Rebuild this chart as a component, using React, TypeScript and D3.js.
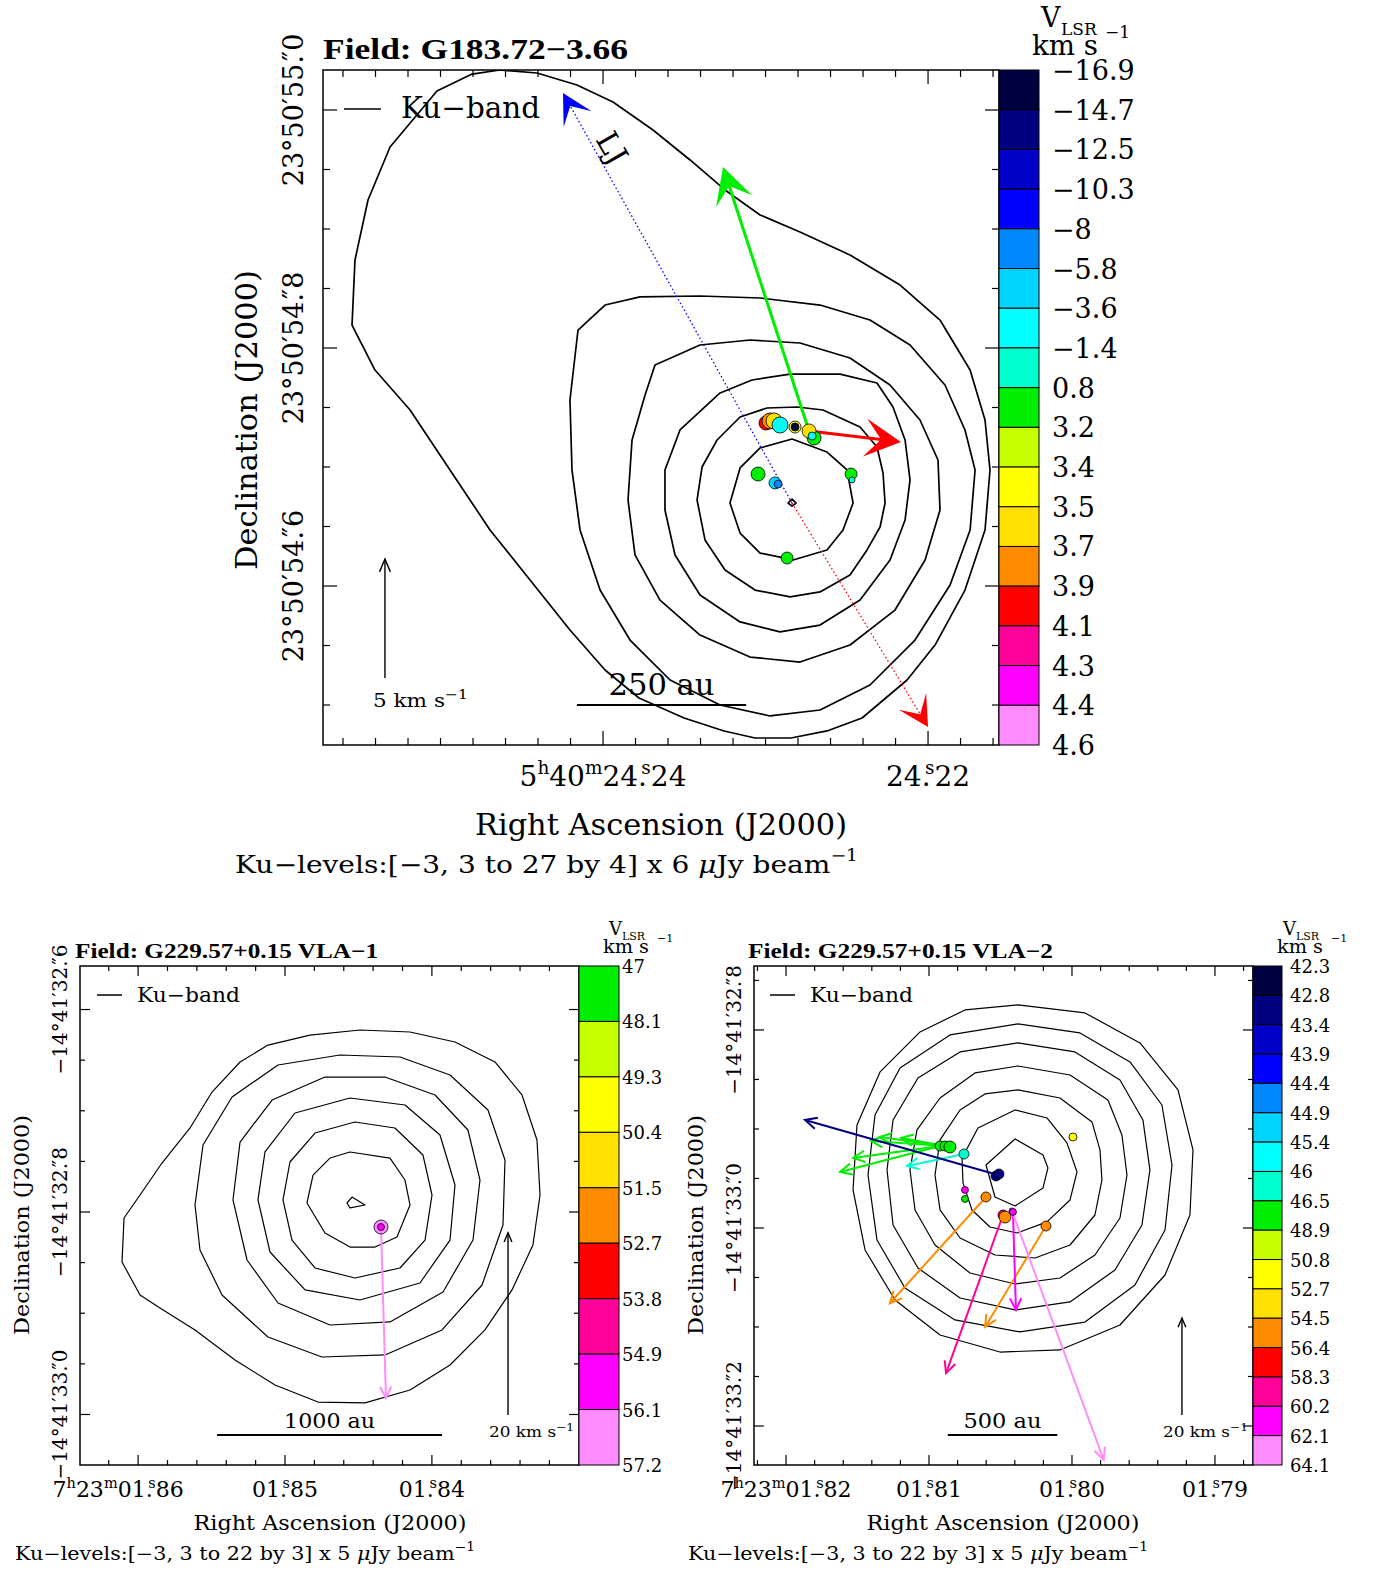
import React from "react";
import * as d3 from "d3";

type Pt = [number, number];
const FONT = "'DejaVu Serif', 'Liberation Serif', serif";
const BOLD_FONT = "'Liberation Serif', 'DejaVu Serif', serif";

// ---------- colour table (17 velocity bins) ----------
const PALETTE = ["#000040", "#000080", "#0000c8", "#0000ff", "#0088ff", "#00d4ff", "#00ffff", "#00ffcc", "#00ee00", "#c8ff00", "#ffff00", "#ffe000", "#ff8c00", "#ff0000", "#ff0099", "#ff00ff", "#ff8cff"];

// ================= G183.72-3.66 =================
const g183Edges = [-16.9, -14.7, -12.5, -10.3, -8, -5.8, -3.6, -1.4, 0.8, 3.2, 3.4, 3.5, 3.7, 3.9, 4.1, 4.3, 4.4, 4.6];
// contours: offsets in mas [east, north] from RA 5h40m24.23s, Dec 23d50m54.7s
const g183Contours: Pt[][] = [
  [[224.2,333.6],[192.9,331.1],[159.2,321.0],[128.8,306.7],[95.0,283.2],[63.7,258.0],[34.2,232.8],[4.6,211.8],[-29.1,197.5],[-71.3,178.1],[-113.6,152.9],[-147.3,123.5],[-172.7,81.5],[-185.3,39.5],[-189.5,-2.5],[-185.3,-52.9],[-168.4,-103.4],[-143.1,-149.6],[-119.5,-179.0],[-81.5,-210.9],[-51.9,-221.8],[-21.5,-227.7],[8.9,-227.7],[35.0,-221.8],[68.8,-210.9],[106.8,-194.1],[135.5,-170.6],[165.1,-137.0],[198.8,-95.0],[232.6,-52.9],[266.4,-2.5],[300.1,47.9],[329.7,81.5],[349.1,119.3],[346.6,173.9],[335.6,224.4],[317.0,268.9],[277.4,316.0],[247.8,330.2]],
  [[158.3,115.1],[135.5,136.1],[106.0,142.9],[55.3,143.7],[4.6,142.0],[-46.0,136.1],[-88.2,123.5],[-122.0,102.5],[-151.5,68.9],[-168.4,31.1],[-176.9,-2.5],[-172.7,-52.9],[-155.8,-99.2],[-126.2,-145.4],[-88.2,-183.2],[-46.0,-204.2],[-3.8,-209.2],[38.4,-200.0],[80.6,-179.0],[114.4,-145.4],[139.7,-103.4],[156.6,-52.9],[163.4,-2.5],[165.1,56.3]],
  [[101.7,60.5],[93.3,85.7],[55.3,102.5],[13.1,106.7],[-29.1,104.2],[-71.3,91.6],[-105.1,68.9],[-130.4,39.5],[-145.6,5.9],[-147.3,-36.1],[-134.7,-78.1],[-109.3,-120.2],[-71.3,-149.6],[-29.1,-163.9],[13.1,-159.7],[55.3,-141.2],[89.1,-111.8],[110.2,-73.9],[116.1,-27.7],[112.7,22.7]],
  [[84.9,-2.5],[72.2,31.1],[38.4,62.2],[11.4,73.1],[-20.7,78.1],[-62.9,78.1],[-94.1,70.6],[-107.6,50.4],[-117.8,22.7],[-122.0,-10.9],[-117.8,-44.5],[-105.1,-78.1],[-79.8,-111.8],[-46.0,-132.8],[-12.2,-138.6],[21.5,-130.2],[55.3,-107.6],[76.4,-73.9],[84.9,-36.1]],
  [[57.8,-27.7],[53.6,0],[40.9,22.7],[21.5,42.0],[-1.3,49.6],[-26.6,50.4],[-48.5,47.9],[-79.8,33.6],[-94.1,16.8],[-99.2,-5.0],[-100.9,-30.3],[-96.7,-50.4],[-85.7,-69.7],[-71.3,-90.8],[-46.0,-105.0],[-20.7,-109.2],[8.9,-103.4],[34.2,-86.6],[51.1,-61.3]],
  [[30.0,-30.3],[21.5,-0.8],[4.6,16.0],[-22.4,23.5],[-51.9,12.6],[-68.8,-2.5],[-73.9,-30.3],[-65.4,-52.9],[-51.9,-69.7],[-23.2,-78.1],[4.6,-72.3],[21.5,-55.5]],
  [[-19.0,-30.3],[-22.4,-26.9],[-25.8,-30.3],[-22.4,-32.8]],
];
// maser spots: [east mas, north mas, V_LSR km/s, flux Jy]
const g183Spots: number[][] = [
  [-0.4, 37.0, 4.0, 49], [-3.8, 38.7, 3.8, 64], [-7.2, 38.7, 3.6, 64], [-12.2, 35.3, -2.5, 64],
  [-24.9, 33.6, 3.45, 36], [-24.9, 33.6, -15.5, 16], [-41.0, 24.4, 2.0, 49], [-36.7, 30.3, 3.6, 49],
  [-39.3, 26.0, -2.5, 16], [6.3, -5.9, 2.0, 49], [-8.0, -13.4, -4.5, 36], [-10.6, -14.3, -7.0, 16],
  [-72.2, -5.9, 2.0, 36], [-73.0, -10.9, -0.5, 9], [-18.2, -76.5, 2.0, 36],
];
// proper motions: [east mas, north mas, vEast km/s, vNorth km/s, V_LSR]
const g183Motions: number[][] = [
  [-36.7, 30.3, 3.63, 11.09, 2.0],
  [-36.7, 30.3, -3.88, -0.46, 4.0],
];
const g183JetCenter: Pt = [-22.4, -30.3];
const g183JetBlue: Pt = [171.0, 314.3];
const g183JetRed: Pt = [-137.2, -218.5];
// tick labels: [value, h/deg, m/min, sec int, sec frac]
const g183RaLabels: any[] = [[24.24, "5", "40", "24", "24"], [24.22, null, null, "24", "22"]];
const g183DecLabels: any[] = [[55.0, "23", "50", "55", "0"], [54.8, "23", "50", "54", "8"], [54.6, "23", "50", "54", "6"]];

// ================= G229.57+0.15 VLA-1 =================
const vla1Edges = [47, 48.1, 49.3, 50.4, 51.5, 52.7, 53.8, 54.9, 56.1, 57.2];
// offsets in mas from RA 7h23m01.85s, Dec -14d41m32.8s
const vla1Contours: Pt[][] = [
  [[161.0,-49.4],[159.0,-5.9],[143.2,16.8],[121.5,48.4],[93.8,83.0],[72.1,118.5],[44.4,148.2],[16.8,164.9],[-24.7,174.8],[-74.1,179.8],[-123.5,177.8],[-167.9,167.9],[-207.4,148.2],[-234.1,115.6],[-248.9,71.1],[-251.9,16.8],[-244.9,-32.6],[-224.2,-77.0],[-197.5,-116.5],[-163.0,-151.1],[-123.5,-175.8],[-79.0,-188.6],[-32.6,-187.7],[9.9,-170.9],[49.4,-146.2],[88.9,-116.5],[123.5,-94.8],[143.2,-82.0]],
  [[88.9,6.9],[81.0,66.2],[52.3,113.6],[6.9,145.2],[-54.3,155.1],[-113.6,153.1],[-163.0,135.3],[-200.5,100.7],[-217.3,51.4],[-215.3,-12.8],[-194.6,-72.1],[-155.1,-116.5],[-98.8,-141.2],[-36.5,-143.2],[16.8,-123.5],[62.2,-82.0],[84.0,-37.5]],
  [[51.4,11.9],[44.4,69.1],[12.8,110.6],[-39.5,133.3],[-98.8,133.3],[-148.2,115.6],[-180.7,81.0],[-192.6,31.6],[-185.7,-27.7],[-156.1,-79.0],[-103.7,-108.6],[-44.4,-111.6],[6.9,-89.9],[37.5,-47.4]],
  [[26.7,11.9],[19.8,59.3],[-9.9,97.8],[-64.2,112.6],[-118.5,105.7],[-153.1,76.1],[-167.9,26.7],[-163.0,-27.7],[-133.3,-70.1],[-74.1,-86.9],[-19.8,-77.0],[14.8,-39.5]],
  [[2.0,11.9],[-4.9,49.4],[-29.6,78.0],[-69.1,88.9],[-108.6,83.0],[-136.3,56.3],[-145.2,16.8],[-138.3,-27.7],[-113.6,-55.3],[-69.1,-65.2],[-29.6,-55.3],[-6.9,-27.7]],
  [[-21.7,8.9],[-27.7,36.5],[-44.4,53.3],[-64.2,59.3],[-103.7,53.3],[-118.5,31.6],[-123.5,6.9],[-110.6,-24.7],[-88.9,-34.6],[-64.2,-34.6],[-39.5,-20.7]],
  [[-61.2,8.9],[-66.2,14.8],[-79.0,6.9],[-64.2,4.0]],
];
const vla1Spots: number[][] = [[-94.8, -14.8, 56.6, 49], [-94.8, -14.8, 55.5, 12]];
const vla1Motions: number[][] = [[-94.8, -14.8, -0.55, -18.8, 56.6]];
const vla1RaLabels: any[] = [[1.86, "7", "23", "01", "86"], [1.85, null, null, "01", "85"], [1.84, null, null, "01", "84"]];
const vla1DecLabels: any[] = [[32.6, "−14", "41", "32", "6"], [32.8, "−14", "41", "32", "8"], [33.0, "−14", "41", "33", "0"]];

// ================= G229.57+0.15 VLA-2 =================
const vla2Edges = [42.3, 42.8, 43.4, 43.9, 44.4, 44.9, 45.4, 46, 46.5, 48.9, 50.8, 52.7, 54.5, 56.4, 58.3, 60.2, 62.1, 64.1];
// offsets in mas from RA 7h23m01.80s, Dec -14d41m33.0s
const vla2Contours: Pt[][] = [
  [[54.8,225.3],[-13.2,217.2],[-69.0,186.9],[-107.6,139.4],[-122.8,78.8],[-119.7,13.1],[-94.4,-47.5],[-48.7,-98.0],[12.2,-123.2],[73.1,-125.3],[133.9,-108.1],[179.6,-72.7],[210.0,-22.2],[222.2,38.4],[218.2,104.0],[194.8,157.6],[154.2,198.0],[108.6,220.2]],
  [[54.8,206.1],[-8.1,197.0],[-58.9,167.7],[-91.3,124.2],[-101.5,63.6],[-94.4,-2.0],[-63.9,-57.6],[-13.2,-95.0],[52.8,-105.0],[118.7,-92.9],[169.5,-60.6],[197.9,-12.1],[207.0,53.5],[199.9,114.1],[174.5,161.6],[123.8,195.0]],
  [[54.8,186.9],[-3.0,177.8],[-48.7,149.5],[-72.0,109.1],[-79.1,58.6],[-71.0,3.0],[-43.6,-42.4],[2.0,-74.7],[57.8,-82.8],[113.6,-70.7],[156.3,-40.4],[181.6,3.0],[187.7,58.6],[181.6,109.1],[156.3,151.5],[113.6,177.8]],
  [[54.8,163.6],[2.0,154.5],[-36.5,129.3],[-50.7,93.9],[-55.8,53.5],[-48.7,10.1],[-23.3,-27.3],[12.2,-50.5],[57.8,-56.6],[103.5,-45.5],[139.0,-17.2],[159.3,18.2],[164.4,58.6],[157.3,99.0],[133.9,131.3],[98.4,156.6]],
  [[54.8,139.4],[12.2,131.3],[-20.3,107.1],[-28.4,78.8],[-30.4,48.5],[-23.3,13.1],[2.0,-17.2],[37.5,-30.3],[78.1,-27.3],[113.6,-10.1],[133.9,18.2],[139.0,53.5],[133.9,88.9],[113.6,119.2],[88.3,135.4]],
  [[57.8,119.2],[25.4,111.1],[5.1,85.9],[-5.1,56.6],[2.0,28.3],[25.4,6.1],[55.8,-5.1],[83.2,1.0],[101.5,18.2],[110.6,45.5],[111.6,70.7],[95.4,101.0]],
  [[57.8,89.9],[29.4,73.7],[24.4,60.6],[29.4,40.4],[57.8,22.2],[78.1,31.3],[87.3,63.6]],
];
const vla2Spots: number[][] = [
  [133.9, 82.8, 47.7, 25], [128.9, 82.8, 47.7, 25], [123.8, 81.8, 47.7, 36], [109.6, 74.7, 46.2, 25],
  [77.1, 52.5, 43.1, 25], [74.1, 54.5, 43.1, 25], [-1.0, 91.9, 51.7, 16], [108.6, 38.4, 61.1, 12],
  [108.6, 29.3, 47.7, 12], [87.3, 31.3, 55.5, 25], [70.0, 13.1, 59.2, 25], [68.0, 11.1, 55.5, 36],
  [60.9, 17.2, 63.1, 9], [59.9, 16.2, 61.1, 12], [26.4, 2.0, 55.5, 25],
];
const vla2Motions: number[][] = [
  [133.9, 82.8, 20.7, -5.36, 47.7], [133.9, 82.8, 18.0, -2.47, 47.7], [128.9, 82.8, 15.3, 1.03, 47.7],
  [128.9, 82.8, 13.5, 1.86, 47.7], [123.8, 81.8, 10.1, 1.86, 47.7], [109.6, 74.7, 11.8, -2.47, 46.2],
  [75.1, 53.5, 39.96, 11.34, 43.1], [87.3, 31.3, 19.9, -21.9, 55.5], [26.4, 2.0, 12.6, -20.8, 55.5],
  [70.0, 13.1, 11.8, -32.6, 59.2], [59.9, 16.2, -0.62, -20.2, 61.1], [60.9, 17.2, -19.0, -51.3, 63.1],
];
const vla2RaLabels: any[] = [[1.82, "7", "23", "01", "82"], [1.81, null, null, "01", "81"], [1.80, null, null, "01", "80"], [1.79, null, null, "01", "79"]];
const vla2DecLabels: any[] = [[32.8, "−14", "41", "32", "8"], [33.0, "−14", "41", "33", "0"], [33.2, "−14", "41", "33", "2"]];

// ---------- helpers ----------
type Seg = { t: string; raise?: number; size?: number; dx?: number; italic?: boolean };
function tspans(segs: Seg[] | string) {
  if (typeof segs === "string") return segs;
  let cur = 0;
  return segs.map((s, i) => {
    const r = s.raise || 0;
    const dy = cur - r;
    cur = r;
    return (
      <tspan key={i} dy={dy || undefined} dx={s.dx} fontSize={s.size} fontStyle={s.italic ? "italic" : undefined}>
        {s.t}
      </tspan>
    );
  });
}
function Label(p: any) {
  const tr = p.rotate ? `translate(${p.x},${p.y}) rotate(${p.rotate})` : undefined;
  return (
    <text
      x={p.rotate ? 0 : p.x}
      y={p.rotate ? 0 : p.y}
      transform={tr}
      fontSize={p.size}
      fontFamily={p.bold ? BOLD_FONT : undefined}
      fontWeight={p.bold ? "bold" : undefined}
      textAnchor={p.anchor || "start"}
      textLength={p.len}
      lengthAdjust={p.len ? "spacingAndGlyphs" : undefined}
      fill="#000"
    >
      {tspans(p.segs)}
    </text>
  );
}
const fmtVel = (v: number) => String(v).replace("-", "−");
const isMaj = (v: number, step: number) => Math.abs(v / step - Math.round(v / step)) < 1e-4;

function headFilled(from: Pt, tip: Pt, L: number, W: number, notch: number) {
  const dx = tip[0] - from[0], dy = tip[1] - from[1];
  const len = Math.hypot(dx, dy) || 1;
  const ux = dx / len, uy = dy / len, px = -uy, py = ux;
  const bx = tip[0] - ux * L, by = tip[1] - uy * L;
  const nx = tip[0] - ux * notch, ny = tip[1] - uy * notch;
  return { pts: `${tip[0]},${tip[1]} ${bx + px * W},${by + py * W} ${nx},${ny} ${bx - px * W},${by - py * W}`, notch: [nx, ny] as Pt };
}
function headOpen(from: Pt, tip: Pt, L: number, ang: number) {
  const a = Math.atan2(tip[1] - from[1], tip[0] - from[0]);
  const a1 = a + Math.PI - ang, a2 = a + Math.PI + ang;
  return `M${tip[0] + L * Math.cos(a1)},${tip[1] + L * Math.sin(a1)}L${tip[0]},${tip[1]}L${tip[0] + L * Math.cos(a2)},${tip[1] + L * Math.sin(a2)}`;
}

function Panel({ c }: { c: any }) {
  const { x0, y0, x1, y1 } = c.frame;
  const xs = d3.scaleLinear().domain(c.eDomain).range([x0, x1]);
  const ys = d3.scaleLinear().domain(c.nDomain).range([y0, y1]);
  const P = (e: number, n: number): Pt => [xs(e), ys(n)];
  const masPerSec = 15000 * c.cosDec;
  const raToE = (ra: number) => (ra - c.raRef) * masPerSec;
  const decToN = (d: number) => c.decSign * (d - c.decRef) * 1000;
  const color = d3.scaleThreshold<number, string>().domain(c.edges.slice(1, -1)).range(c.palette);
  const rScale = d3.scaleSqrt().domain([0, 100]).range([0, 10]);
  const line = d3.line<Pt>().x((d) => xs(d[0])).y((d) => ys(d[1])).curve(d3.curveLinearClosed);
  const clipId = "clip-" + c.id;

  const eMin = Math.min(...c.eDomain), eMax = Math.max(...c.eDomain);
  const nMin = Math.min(...c.nDomain), nMax = Math.max(...c.nDomain);
  const raTicks: any[] = [];
  for (let k = -300; k <= 300; k++) {
    const ra = c.raRef + k * c.raMinor;
    const e = raToE(ra);
    if (e > eMin + 0.5 && e < eMax - 0.5) raTicks.push({ x: xs(e), major: isMaj(ra, c.raMajor) });
  }
  const decTicks: any[] = [];
  for (let k = -300; k <= 300; k++) {
    const d = c.decRef + k * c.decMinor;
    const n = decToN(d);
    if (n > nMin + 0.5 && n < nMax - 0.5) decTicks.push({ y: ys(n), major: isMaj(d, c.decMajor) });
  }

  const fsR = c.raFont, fsD = c.decFont;
  const raSegs = (l: any): Seg[] => {
    const up = 0.42 * fsR, ss = 0.66 * fsR;
    const out: Seg[] = [];
    if (l[1]) out.push({ t: l[1] }, { t: "h", raise: up, size: ss }, { t: l[2] }, { t: "m", raise: up, size: ss });
    out.push({ t: l[3] + "." }, { t: "s", raise: up, size: ss, dx: -0.2 * fsR }, { t: l[4] });
    return out;
  };
  const decSegs = (l: any): Seg[] => [{ t: `${l[1]}°${l[2]}′${l[3]}.` }, { t: "″", dx: -0.22 * fsD }, { t: l[4] }];

  const nb = c.edges.length - 1;
  const yb = d3.scaleLinear().domain([0, nb]).range([y0, y1]);
  const vecEnd = (e: number, n: number, ve: number, vn: number) => P(e + ve * c.masPerKms, n + vn * c.masPerKms);
  const jet = c.jet;
  const au2mas = (au: number) => au / c.distKpc;

  return (
    <g>
      <defs>
        <clipPath id={clipId}>
          <rect x={x0} y={y0} width={x1 - x0} height={y1 - y0} />
        </clipPath>
      </defs>
      <g clipPath={`url(#${clipId})`}>
        {c.contours.map((cc: Pt[], i: number) => (
          <path key={i} d={line(cc) || ""} fill="none" stroke="#000" strokeWidth={c.contourWidth} strokeLinejoin="round" />
        ))}
      </g>
      <rect x={x0} y={y0} width={x1 - x0} height={y1 - y0} fill="none" stroke="#000" strokeWidth={1.5} />
      {raTicks.map((t, i) => {
        const L = t.major ? c.tickMajor : c.tickMinor;
        return (
          <g key={"rt" + i} stroke="#000" strokeWidth={1.2}>
            <line x1={t.x} x2={t.x} y1={y1} y2={y1 - L} />
            <line x1={t.x} x2={t.x} y1={y0} y2={y0 + L} />
          </g>
        );
      })}
      {decTicks.map((t, i) => {
        const L = t.major ? c.tickMajor : c.tickMinor;
        return (
          <g key={"dt" + i} stroke="#000" strokeWidth={1.2}>
            <line x1={x0} x2={x0 + L} y1={t.y} y2={t.y} />
            <line x1={x1} x2={x1 - L} y1={t.y} y2={t.y} />
          </g>
        );
      })}
      {c.raLabels.map((l: any, i: number) => (
        <Label key={"rl" + i} x={xs(raToE(l[0])) + (l[1] ? c.raFirstShift : 0)} y={c.raY} size={fsR} anchor="middle" segs={raSegs(l)} />
      ))}
      {c.decLabels.map((l: any, i: number) => (
        <Label key={"dl" + i} x={c.decX} y={ys(decToN(l[0]))} rotate={-90} size={fsD} anchor="middle" segs={decSegs(l)} />
      ))}
      {jet && (() => {
        const cen = P(jet.center[0], jet.center[1]);
        const b = P(jet.blue[0], jet.blue[1]);
        const r = P(jet.red[0], jet.red[1]);
        const hb = headFilled(cen, b, 30, 16, 15);
        const hr = headFilled(cen, r, 30, 16, 15);
        return (
          <g>
            <line x1={cen[0]} y1={cen[1]} x2={hb.notch[0]} y2={hb.notch[1]} stroke="#0000ff" strokeWidth={1.3} strokeDasharray="1.5 2.5" />
            <polygon points={hb.pts} fill="#0000ff" />
            <line x1={cen[0]} y1={cen[1]} x2={hr.notch[0]} y2={hr.notch[1]} stroke="#ff0000" strokeWidth={1.3} strokeDasharray="1.5 2.5" />
            <polygon points={hr.pts} fill="#ff0000" />
            <text transform={`translate(${xs(jet.label[0])},${ys(jet.label[1])}) rotate(60)`} fontSize={30} textAnchor="middle" dominantBaseline="central">LJ</text>
          </g>
        );
      })()}
      {c.motions.map((m: number[], i: number) => {
        const s = P(m[0], m[1]);
        const t = vecEnd(m[0], m[1], m[2], m[3]);
        const col = color(m[4]);
        if (c.head === "filled") {
          const h = headFilled(s, t, 36, 19, 20);
          return (
            <g key={"m" + i}>
              <line x1={s[0]} y1={s[1]} x2={h.notch[0]} y2={h.notch[1]} stroke={col} strokeWidth={c.motionWidth} />
              <polygon points={h.pts} fill={col} />
            </g>
          );
        }
        return (
          <g key={"m" + i} stroke={col} strokeWidth={c.motionWidth} fill="none">
            <line x1={s[0]} y1={s[1]} x2={t[0]} y2={t[1]} />
            <path d={headOpen(s, t, 13, 0.45)} />
          </g>
        );
      })}
      {c.spots.map((s: number[], i: number) => {
        const [x, y] = P(s[0], s[1]);
        return <circle key={"s" + i} cx={x} cy={y} r={rScale(s[3])} fill={color(s[2])} stroke="#000" strokeWidth={0.8} />;
      })}
      {(() => {
        const a = c.refArrow;
        const s = P(a.e, a.n);
        const t = vecEnd(a.e, a.n, 0, a.kms);
        return (
          <g>
            <g stroke="#000" strokeWidth={1.4} fill="none">
              <line x1={s[0]} y1={s[1]} x2={t[0]} y2={t[1]} />
              <path d={headOpen(s, t, a.head, 0.4)} />
            </g>
            <Label x={s[0] + a.lx} y={s[1] + a.ly} size={a.size} segs={[{ t: `${a.kms} km s` }, { t: "−1", raise: a.size * 0.45, size: a.size * 0.72 }]} len={a.len} />
          </g>
        );
      })()}
      {(() => {
        const sb = c.scaleBar;
        const half = au2mas(sb.au) / 2;
        const a = P(sb.e + half, sb.n), b = P(sb.e - half, sb.n);
        return (
          <g>
            <line x1={a[0]} x2={b[0]} y1={a[1]} y2={b[1]} stroke="#000" strokeWidth={2} />
            <Label x={(a[0] + b[0]) / 2} y={a[1] + sb.ty} size={sb.size} anchor="middle" segs={`${sb.au} au`} len={sb.len} />
          </g>
        );
      })()}
      {d3.range(nb).map((i) => (
        <rect key={"cb" + i} x={c.cbar.x0} y={yb(i)} width={c.cbar.x1 - c.cbar.x0} height={yb(i + 1) - yb(i)} fill={c.palette[i]} stroke="#000" strokeWidth={1} />
      ))}
      {c.edges.map((v: number, i: number) => (
        <Label key={"cl" + i} x={c.cbar.labelX} y={yb(i) + c.cbar.dy} size={c.cbar.font} segs={fmtVel(v)} />
      ))}
      <line x1={c.legend.x1} x2={c.legend.x2} y1={c.legend.y} y2={c.legend.y} stroke="#000" strokeWidth={1.5} />
      {c.texts.map((t: any, i: number) => (
        <Label key={"t" + i} {...t} />
      ))}
    </g>
  );
}

const g183Cfg = {
  id: "g183",
  frame: { x0: 323, y0: 70, x1: 999, y1: 745 },
  eDomain: [373.6, -197.1], nDomain: [333.6, -233.6],
  raRef: 24.23, decRef: 54.7, cosDec: 0.91464, decSign: 1,
  raMinor: 0.002, raMajor: 0.02, decMinor: 0.05, decMajor: 0.2,
  tickMajor: 14, tickMinor: 7,
  contours: g183Contours, contourWidth: 1.7,
  spots: g183Spots, motions: g183Motions, masPerKms: 20, motionWidth: 3, head: "filled",
  edges: g183Edges, palette: PALETTE,
  cbar: { x0: 999, x1: 1039, labelX: 1052, font: 27, dy: 10 },
  raLabels: g183RaLabels, raFont: 28, raY: 786, raFirstShift: 0,
  decLabels: g183DecLabels, decFont: 27, decX: 303,
  jet: { center: g183JetCenter, blue: g183JetBlue, red: g183JetRed, label: [129.6, 268.1] },
  refArrow: { e: 321.3, n: -177.3, kms: 5, head: 14, lx: -12, ly: 29, size: 18, len: 95 },
  distKpc: 1.75,
  scaleBar: { e: 87.8, n: -200, au: 250, ty: -10, size: 29, len: 106 },
  legend: { x1: 344, x2: 381, y: 109 },
  texts: [
    { x: 323, y: 59, size: 29, bold: true, segs: "Field: G183.72−3.66", len: 305 },
    { x: 401, y: 118, size: 29, segs: "Ku−band", len: 139 },
    { x: 661, y: 835, size: 29, anchor: "middle", segs: "Right Ascension (J2000)", len: 372 },
    { x: 257, y: 420, rotate: -90, size: 29, anchor: "middle", segs: "Declination (J2000)", len: 300 },
    { x: 235, y: 873, size: 24, len: 623, segs: [{ t: "Ku−levels:[−3, 3 to 27 by 4] x 6 " }, { t: "μ", italic: true }, { t: "Jy beam" }, { t: "−1", raise: 12, size: 16 }] },
    { x: 1041, y: 27, size: 27, segs: "V" },
    { x: 1061, y: 35, size: 17, segs: "LSR" },
    { x: 1032, y: 55, size: 27, segs: "km s", len: 66 },
    { x: 1105, y: 38, size: 17, segs: "−1" },
  ],
};

const vla1Cfg = {
  id: "vla1",
  frame: { x0: 80, y0: 966, x1: 579, y1: 1465 },
  eDomain: [202.5, -290.4], nDomain: [243.0, -249.9],
  raRef: 1.85, decRef: 32.8, cosDec: 0.96731, decSign: -1,
  raMinor: 0.002, raMajor: 0.01, decMinor: 0.05, decMajor: 0.2,
  tickMajor: 10, tickMinor: 5,
  contours: vla1Contours, contourWidth: 1.2,
  spots: vla1Spots, motions: vla1Motions, masPerKms: 9, motionWidth: 2, head: "open",
  edges: vla1Edges, palette: PALETTE.slice(8),
  cbar: { x0: 579, x1: 619, labelX: 622, font: 18, dy: 7 },
  raLabels: vla1RaLabels, raFont: 22, raY: 1497, raFirstShift: -20,
  decLabels: vla1DecLabels, decFont: 20, decX: 67,
  jet: null,
  refArrow: { e: -220.3, n: -200.5, kms: 20, head: 10, lx: -19, ly: 22, size: 14, len: 85 },
  distKpc: 4.5,
  scaleBar: { e: -44.0, n: -220.3, au: 1000, ty: -7, size: 20, len: 91 },
  legend: { x1: 97, x2: 122, y: 995 },
  texts: [
    { x: 75, y: 958, size: 21, bold: true, segs: "Field: G229.57+0.15 VLA−1", len: 303 },
    { x: 137, y: 1002, size: 20, segs: "Ku−band", len: 103 },
    { x: 330, y: 1530, size: 21, anchor: "middle", segs: "Right Ascension (J2000)", len: 273 },
    { x: 29, y: 1225, rotate: -90, size: 21, anchor: "middle", segs: "Declination (J2000)", len: 220 },
    { x: 15, y: 1560, size: 18, len: 460, segs: [{ t: "Ku−levels:[−3, 3 to 22 by 3] x 5 " }, { t: "μ", italic: true }, { t: "Jy beam" }, { t: "−1", raise: 9, size: 12 }] },
    { x: 609, y: 935, size: 18, segs: "V" },
    { x: 622, y: 940, size: 11, segs: "LSR" },
    { x: 603, y: 953, size: 18, segs: "km s", len: 46 },
    { x: 657, y: 942, size: 11, segs: "−1" },
  ],
};

const vla2Cfg = {
  id: "vla2",
  frame: { x0: 754, y0: 966, x1: 1253, y1: 1465 },
  eDomain: [322.7, -183.7], nDomain: [264.6, -239.4],
  raRef: 1.80, decRef: 33.0, cosDec: 0.96731, decSign: -1,
  raMinor: 0.002, raMajor: 0.01, decMinor: 0.05, decMajor: 0.2,
  tickMajor: 10, tickMinor: 5,
  contours: vla2Contours, contourWidth: 1.2,
  spots: vla2Spots, motions: vla2Motions, masPerKms: 4.9, motionWidth: 2, head: "open",
  edges: vla2Edges, palette: PALETTE,
  cbar: { x0: 1253, x1: 1282, labelX: 1290, font: 18, dy: 7 },
  raLabels: vla2RaLabels, raFont: 22, raY: 1497, raFirstShift: 0,
  decLabels: vla2DecLabels, decFont: 20, decX: 741,
  jet: null,
  refArrow: { e: -111.6, n: -188.9, kms: 20, head: 10, lx: -19, ly: 22, size: 14, len: 85 },
  distKpc: 4.5,
  scaleBar: { e: 70.5, n: -209.1, au: 500, ty: -7, size: 20, len: 78 },
  legend: { x1: 770, x2: 795, y: 995 },
  texts: [
    { x: 748, y: 958, size: 21, bold: true, segs: "Field: G229.57+0.15 VLA−2", len: 305 },
    { x: 810, y: 1002, size: 20, segs: "Ku−band", len: 103 },
    { x: 1003, y: 1530, size: 21, anchor: "middle", segs: "Right Ascension (J2000)", len: 273 },
    { x: 703, y: 1225, rotate: -90, size: 21, anchor: "middle", segs: "Declination (J2000)", len: 220 },
    { x: 688, y: 1560, size: 18, len: 460, segs: [{ t: "Ku−levels:[−3, 3 to 22 by 3] x 5 " }, { t: "μ", italic: true }, { t: "Jy beam" }, { t: "−1", raise: 9, size: 12 }] },
    { x: 1283, y: 935, size: 18, segs: "V" },
    { x: 1296, y: 940, size: 11, segs: "LSR" },
    { x: 1277, y: 953, size: 18, segs: "km s", len: 46 },
    { x: 1331, y: 942, size: 11, segs: "−1" },
  ],
};

export default function App() {
  return (
    <svg width={1375} height={1570} style={{ position: "absolute", left: 0, top: 0, background: "#fff" }} fontFamily={FONT}>
      <rect x={0} y={0} width={1375} height={1570} fill="#fff" />
      <Panel c={g183Cfg} />
      <Panel c={vla1Cfg} />
      <Panel c={vla2Cfg} />
    </svg>
  );
}
